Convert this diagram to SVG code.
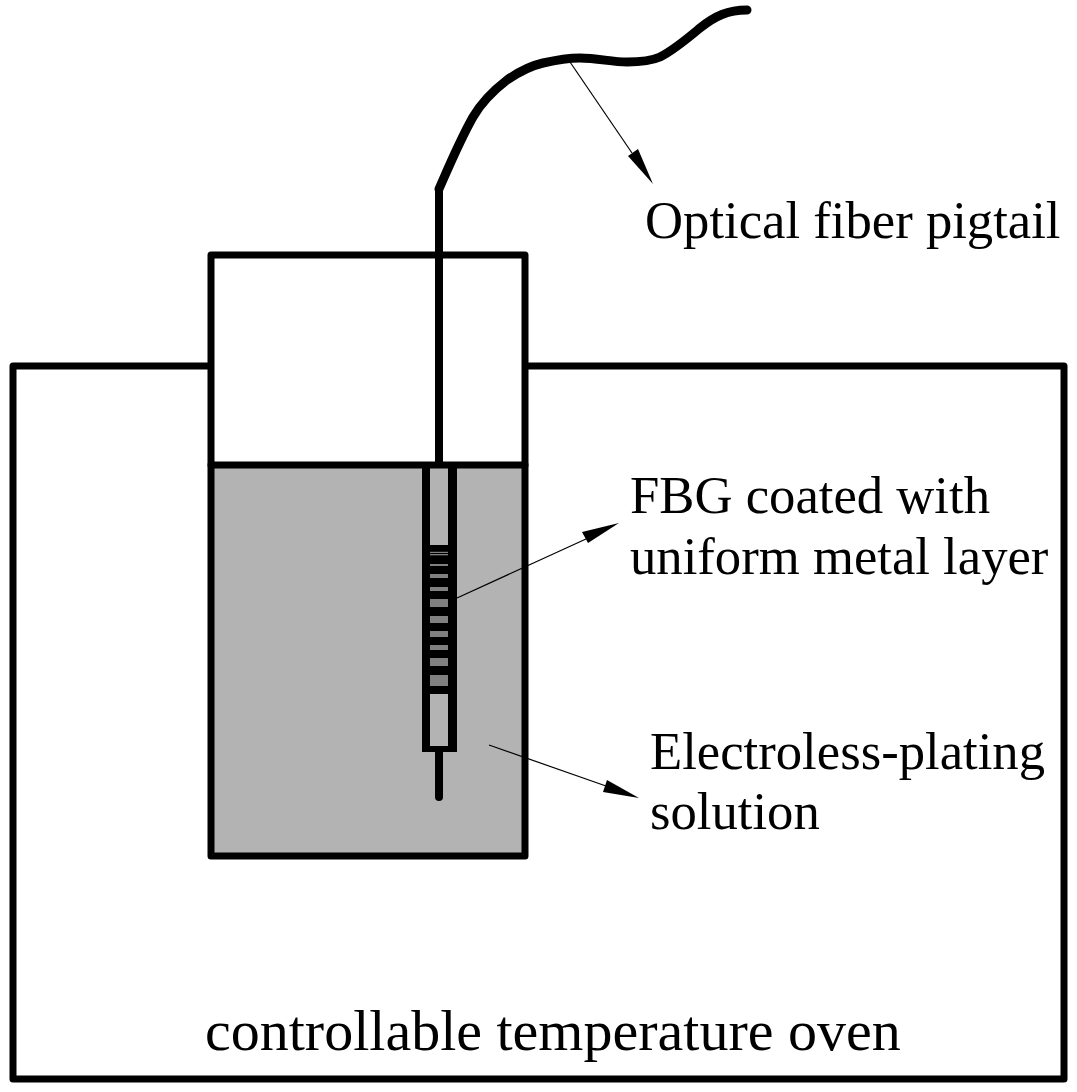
<svg xmlns="http://www.w3.org/2000/svg" width="1077" height="1092" viewBox="0 0 1077 1092">
<style>
.wall{fill:none;stroke:#000;stroke-width:7;stroke-linejoin:round;stroke-linecap:round}
.lead{fill:none;stroke:#000;stroke-width:1.2}
.head{fill:#000;stroke:none}
.bar{fill:#808080;stroke:none}
text{font-family:"Liberation Serif","Times New Roman",serif;font-size:52.7px;fill:#000}
</style>
<rect width="1077" height="1092" fill="#fff"/>
<g id="oven">
<path class="wall" d="M208 366H13V1079H1064V366H528"/>
<text x="205" y="1050" style="font-size:58px">controllable temperature oven</text>
</g>
<g id="container">
<rect x="211" y="465" width="314" height="391" fill="#b3b3b3"/>
<path class="wall" d="M211 465V255H525V465"/>
<path class="wall" d="M211 465H525V856H211Z"/>
</g>
<g id="fbg">
<path d="M439 465V189" fill="none" stroke="#000" stroke-width="8"/>
<path d="M439 750V797" fill="none" stroke="#000" stroke-width="8" stroke-linecap="round"/>
<rect x="422" y="466" width="8" height="286" fill="#000"/>
<rect x="448" y="466" width="9" height="286" fill="#000"/>
<rect x="422" y="746" width="35" height="6" fill="#000"/>
<rect x="430" y="545" width="18" height="149" fill="#000"/>
<rect class="bar" x="430" y="551.8" width="18" height="1.2"/>
<rect class="bar" x="430" y="554" width="18" height="1.3"/>
<rect class="bar" x="430" y="564" width="18" height="2"/>
<rect class="bar" x="430" y="574" width="18" height="4"/>
<rect class="bar" x="430" y="587" width="18" height="4"/>
<rect class="bar" x="430" y="599" width="18" height="8"/>
<rect class="bar" x="430" y="616" width="18" height="7"/>
<rect class="bar" x="430" y="631" width="18" height="6"/>
<rect class="bar" x="430" y="645" width="18" height="5"/>
<rect class="bar" x="430" y="658" width="18" height="8"/>
<rect class="bar" x="430" y="675" width="18" height="11"/>
</g>
<g id="pigtail">
<path d="M439 189C450 164 460 140 473 117C483 100 494 90 507 80C520 71 530 66 543 63C556 60 567 58 580 58C597 58 612 62 627 62C640 62 651 61 660 57C674 50 688 38 700 28C715 16 728 10 747 10" fill="none" stroke="#000" stroke-width="9" stroke-linecap="round" stroke-linejoin="round"/>
</g>
<g id="connectors">
<path class="lead" d="M570 62L632 153"/>
<polygon class="head" points="653,184 628,156 638,149"/>
<path class="lead" d="M457 598L586 539"/>
<polygon class="head" points="619,523 582,532 588,543"/>
<path class="lead" d="M489 745L606 786"/>
<polygon class="head" points="639,798 607,780 603,792"/>
</g>
<g id="labels">
<text x="645" y="238">Optical fiber pigtail</text>
<text x="630" y="513">FBG coated with</text>
<text x="630" y="574">uniform metal layer</text>
<text x="650" y="769">Electroless-plating</text>
<text x="650" y="829">solution</text>
</g>
</svg>
